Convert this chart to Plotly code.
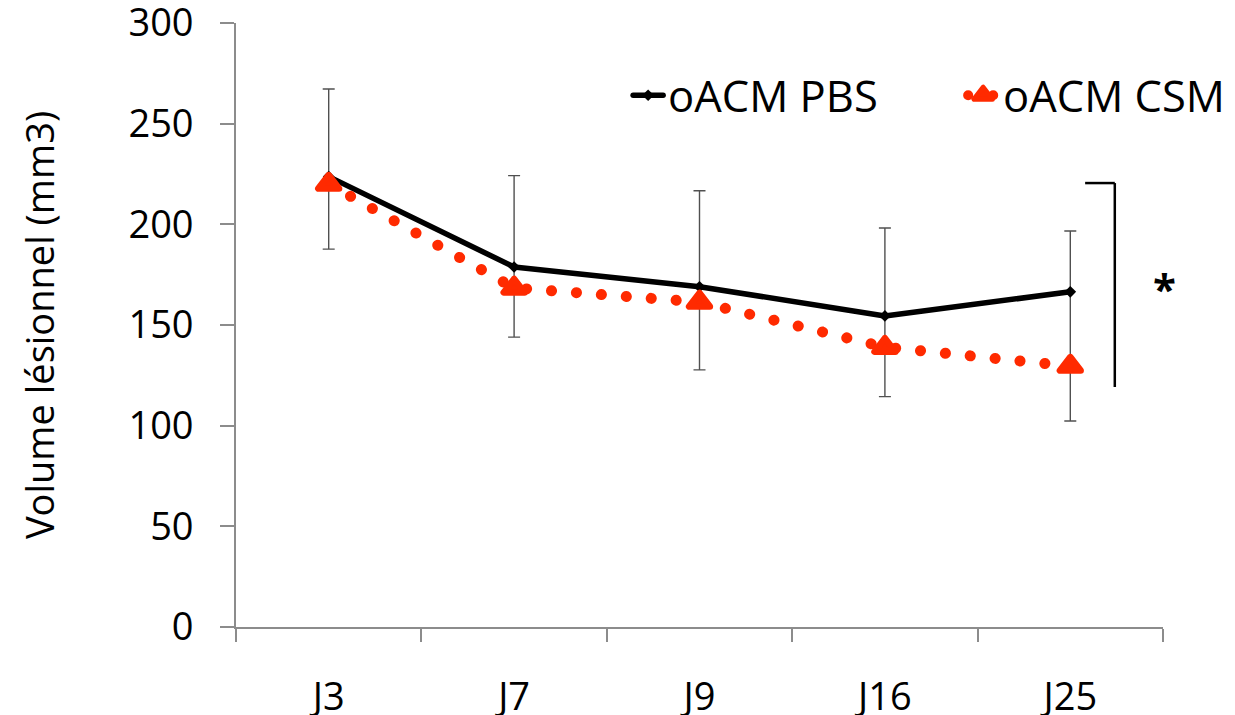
import plotly.graph_objects as go

# ---- data ----
days = ["J3", "J7", "J9", "J16", "J25"]
pbs_mean = [223.7, 178.8, 169.0, 154.5, 166.5]
pbs_err_plus = [43.5, 45.4, 47.7, 43.7, 30.2]
csm_mean = [220.0, 168.4, 161.4, 139.0, 129.6]
csm_err_minus = [32.3, 24.4, 33.7, 24.6, 27.3]
y_ticks = [0, 50, 100, 150, 200, 250, 300]
bracket_y = [220.5, 119.2]          # significance bracket (data units)
star_y = 168.5                       # position of the "*" (data units)

RED = "#FF2A00"
AXIS = "#8C8C8C"
FONT = "Open Sans"

# combined error bars: from CSM-minus up to PBS+plus
err_top = [m + e for m, e in zip(pbs_mean, pbs_err_plus)]
err_bot = [m - e for m, e in zip(csm_mean, csm_err_minus)]
err_mid = [(a + b) / 2 for a, b in zip(err_top, err_bot)]
err_half = [(a - b) / 2 for a, b in zip(err_top, err_bot)]

fig = go.Figure()

fig.add_trace(go.Scatter(
    x=days, y=err_mid, mode="markers",
    marker=dict(size=1, color="rgba(0,0,0,0)"),
    error_y=dict(type="data", array=err_half, symmetric=True,
                 color="#505050", thickness=1.4, width=6),
    showlegend=False, hoverinfo="skip"))

fig.add_trace(go.Scatter(
    x=days, y=pbs_mean, mode="lines+markers", name="oACM PBS",
    line=dict(color="black", width=5.5),
    marker=dict(symbol="diamond", size=9, color="black")))

fig.add_trace(go.Scatter(
    x=days, y=csm_mean, mode="lines+markers", name="oACM CSM",
    line=dict(color=RED, width=11, dash="0.1px,24.9px"),
    marker=dict(symbol="triangle-up", size=18, color=RED,
                line=dict(color=RED, width=6.5))))

# significance bracket
fig.add_shape(type="line", xref="paper", yref="y",
              x0=0.916, x1=0.948, y0=bracket_y[0], y1=bracket_y[0],
              line=dict(color="black", width=2.5))
fig.add_shape(type="line", xref="paper", yref="y",
              x0=0.948, x1=0.948, y0=bracket_y[0], y1=bracket_y[1],
              line=dict(color="black", width=2.5))
fig.add_annotation(xref="paper", yref="y", x=1.016, y=star_y, text="<b>*</b>",
                   showarrow=False, font=dict(family=FONT, size=42, color="black"))

fig.update_layout(
    width=1235, height=715,
    margin=dict(l=236, r=72, t=23, b=88, autoexpand=False),
    paper_bgcolor="white", plot_bgcolor="white",
    font=dict(family=FONT, color="black"),
    showlegend=True,
    legend=dict(orientation="h", x=0.423, xanchor="left", y=0.88, yanchor="middle",
                font=dict(family=FONT, size=43.5, color="black"),
                bgcolor="rgba(0,0,0,0)", itemwidth=30,
                entrywidth=290, entrywidthmode="pixels",
                traceorder="normal"),
    xaxis=dict(type="category", range=[-0.5, 4.5], tickson="boundaries",
               showline=True, linecolor=AXIS, linewidth=1.6,
               ticks="outside", ticklen=13, tickwidth=1.6, tickcolor=AXIS,
               showgrid=False, zeroline=False,
               tickfont=dict(family=FONT, size=38, color="black"),
               ticklabelstandoff=36, automargin=False),
    yaxis=dict(range=[0, 300], tickvals=y_ticks,
               showline=True, linecolor=AXIS, linewidth=1.6,
               ticks="outside", ticklen=14, tickwidth=1.6, tickcolor=AXIS,
               showgrid=False, zeroline=False, ticklabeloverflow="allow",
               tickfont=dict(family=FONT, size=38, color="black"),
               ticklabelstandoff=19, automargin=False,
               title=dict(text="Volume lésionnel (mm3)", standoff=62,
                          font=dict(family=FONT, size=38, color="black"))),
)

post = """
document.body.style.margin='0';
var s=document.createElement('style');
s.textContent='body{margin:0;} .scatterlayer .js-line, .legend .js-line{stroke-linecap:round;stroke-linejoin:round;} .scatterlayer path.point, .legend path.scatterpts{stroke-linejoin:round;}';
document.head.appendChild(s);
"""
fig.write_html("out.html", post_script=post, config={"displayModeBar": False})
